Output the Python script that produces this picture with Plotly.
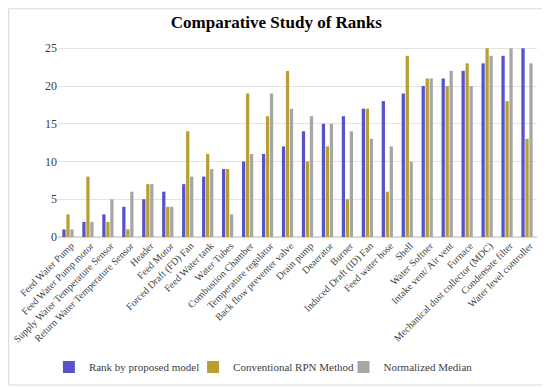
import plotly.graph_objects as go

categories = [
    "Feed Water Pump", "Feed Water Pump motor", "Supply Water Temperature Sensor",
    "Return Water Temperature Sensor", "Header", "Feed Motor", "Forced Draft (FD) Fan",
    "Feed Water tank", "Water Tubes", "Combustion Chamber", "Temperature regulator",
    "Back flow preventer valve", "Drain pump", "Deaerator", "Burner",
    "Induced Draft (ID) Fan", "Feed water hose", "Shell", "Water Softner",
    "Intake vent/ Air vent", "Furnace", "Mechanical dust collector (MDC)",
    "Condensate filter", "Water level controller",
]
rank_proposed = [1, 2, 3, 4, 5, 6, 7, 8, 9, 10, 11, 12, 14, 15, 16, 17, 18, 19, 20, 21, 22, 23, 24, 25]
rank_rpn = [3, 8, 2, 1, 7, 4, 14, 11, 9, 19, 16, 22, 10, 12, 5, 17, 6, 24, 21, 20, 23, 25, 18, 13]
normalized_median = [1, 2, 5, 6, 7, 4, 8, 9, 3, 11, 19, 17, 16, 15, 14, 13, 12, 10, 21, 22, 20, 24, 25, 23]
y_ticks = [0, 5, 10, 15, 20, 25]

font_family = "Times New Roman"

fig = go.Figure()
fig.add_trace(go.Bar(x=categories, y=rank_proposed, name="Rank by proposed model",
                     marker=dict(color="#5753CB", line=dict(width=0)), legend="legend"))
fig.add_trace(go.Bar(x=categories, y=rank_rpn, name="Conventional RPN Method",
                     marker=dict(color="#B89E33", line=dict(width=0)), legend="legend2"))
fig.add_trace(go.Bar(x=categories, y=normalized_median, name="Normalized Median",
                     marker=dict(color="#A6A6A6", line=dict(width=0)), legend="legend3"))

leg_common = dict(orientation="h", xanchor="left", yref="container", y=0.055,
                  yanchor="middle", bgcolor="rgba(0,0,0,0)", itemwidth=30,
                  font=dict(family=font_family, size=11, color="#404040"))

fig.update_layout(
    width=542, height=380,
    paper_bgcolor="white", plot_bgcolor="white",
    margin=dict(l=50, r=13, t=38, b=151, autoexpand=False),
    font=dict(family=font_family, color="#404040", size=11),
    title=dict(text="<b>Comparative Study of Ranks</b>", x=0.495, xanchor="center",
               y=0.963, yanchor="middle",
               font=dict(family=font_family, size=17, color="black")),
    barmode="group", bargap=0.4, bargroupgap=0.18,
    showlegend=True,
    legend=dict(x=-0.019, **leg_common),
    legend2=dict(x=0.282, **leg_common),
    legend3=dict(x=0.596, **leg_common),
    shapes=[dict(type="rect", xref="paper", yref="paper",
                 x0=-0.103, x1=1.012, y0=-0.775, y1=1.195,
                 line=dict(color="#D9D9D9", width=1))],
)
fig.update_xaxes(tickangle=-45, showgrid=False, showline=False, ticks="", automargin=False,
                 ticklabelshift=3,
                 tickfont=dict(family=font_family, size=10, color="#404040"))
fig.update_yaxes(range=[0, 25.3], tickvals=y_ticks, showgrid=True, gridcolor="#E3E3E3",
                 gridwidth=1, zeroline=True, zerolinecolor="#D9D9D9", showline=False,
                 ticks="", automargin=False,
                 tickfont=dict(family=font_family, size=12, color="#404040"))

fig.write_html("out.html")
